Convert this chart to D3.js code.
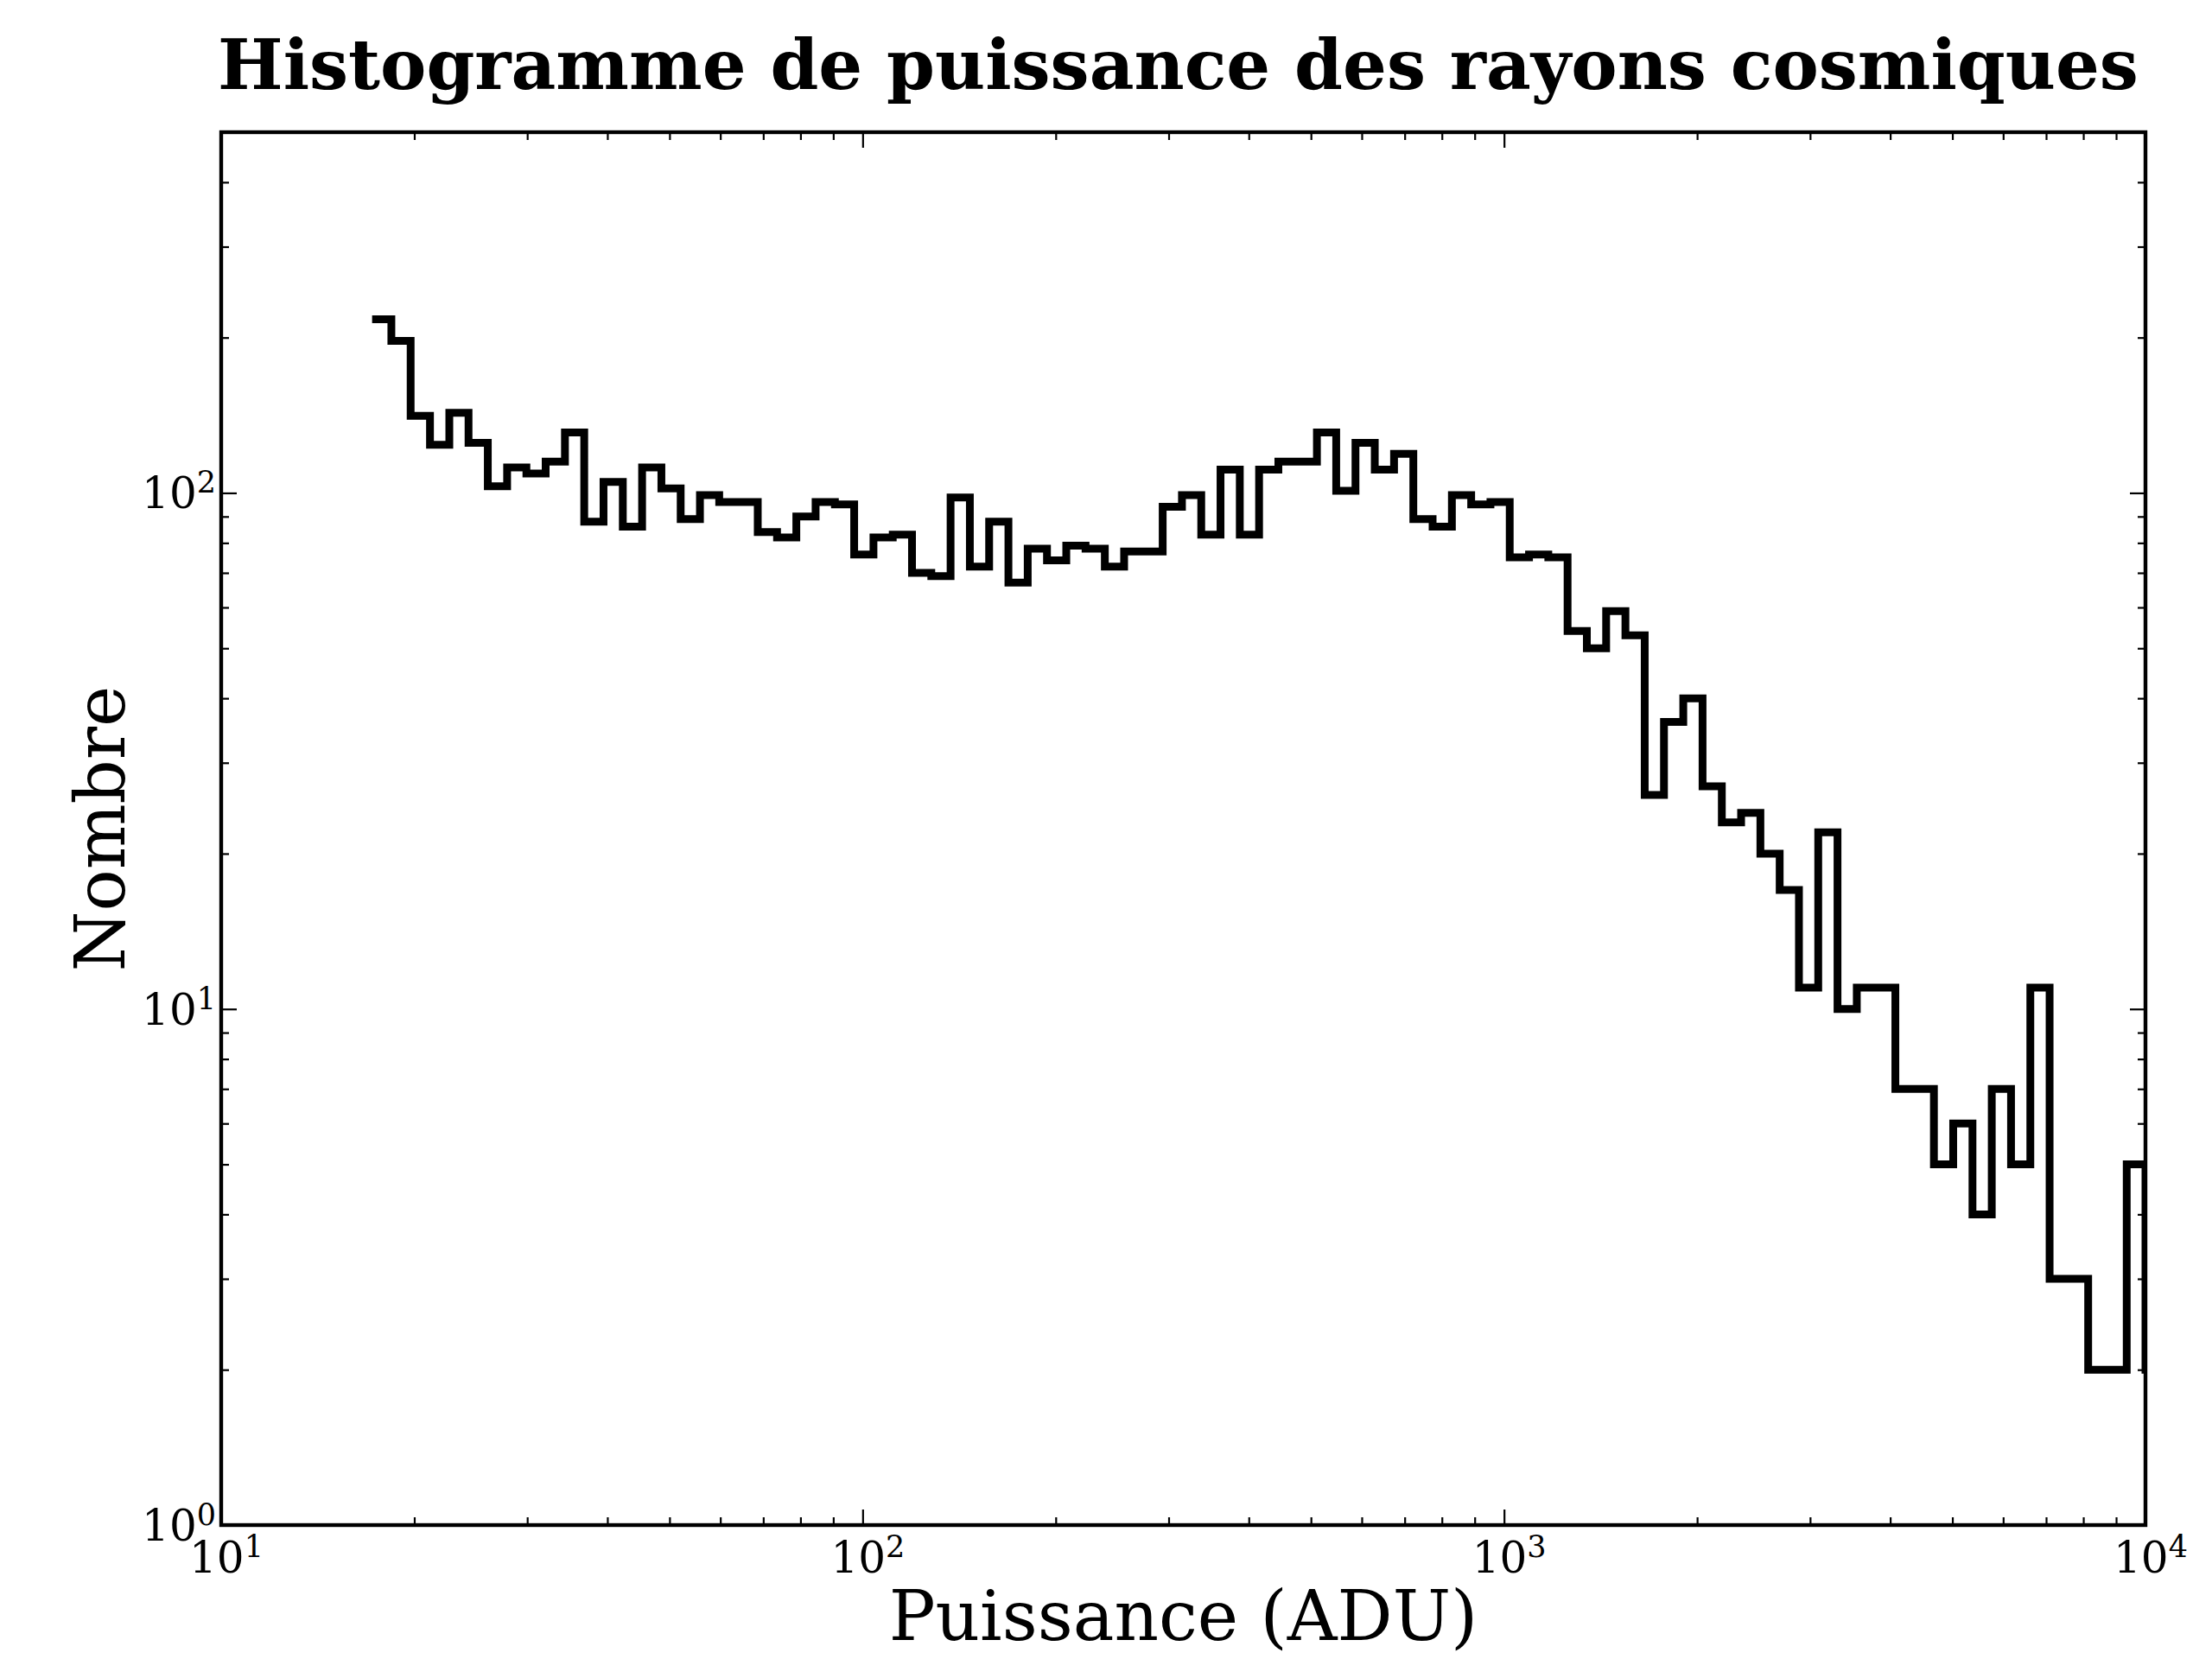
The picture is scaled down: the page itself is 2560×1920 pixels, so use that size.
<!DOCTYPE html>
<html>
<head>
<meta charset="utf-8">
<script src="https://cdn.jsdelivr.net/npm/d3@7"></script>
<style>
body { margin: 0; background: #fff; }
text { font-family: 'DejaVu Serif', serif; fill: #000; }
</style>
</head>
<body>
<svg id="histogram" width="2560" height="1920"></svg>
<script>
// bin edges (ADU), log spaced
const binEdges = [17.19, 18.42, 19.74, 21.16, 22.68, 24.30, 26.04, 27.91, 29.91, 32.05,
    34.35, 36.81, 39.45, 42.28, 45.31, 48.56, 52.04, 55.77, 59.76, 64.04,
    68.63, 73.55, 78.82, 84.47, 90.53, 97.01, 103.97, 111.42, 119.40, 127.96,
    137.13, 146.96, 157.49, 168.78, 180.87, 193.84, 207.73, 222.62, 238.57, 255.67,
    273.99, 293.63, 314.67, 337.22, 361.39, 387.29, 415.05, 444.79, 476.67, 510.83,
    547.44, 586.67, 628.72, 673.77, 722.06, 773.81, 829.27, 888.70, 952.39, 1020.6,
    1093.8, 1172.2, 1256.2, 1346.2, 1442.7, 1546.1, 1656.9, 1775.6, 1902.9, 2039.3,
    2185.4, 2342.0, 2509.9, 2689.8, 2882.5, 3089.1, 3310.5, 3547.8, 3802.0, 4074.5,
    4366.5, 4679.4, 5014.8, 5374.2, 5759.3, 6172.0, 6614.4, 7088.4, 7596.4, 8140.8,
    8724.2, 9349.4, 10000, 10716];

// counts per bin
const counts = [217, 197, 141, 124, 143, 125, 103, 112, 109, 115,
    131, 88, 105, 86, 112, 102, 89, 99, 96, 96,
    84, 82, 90, 96, 95, 76, 82, 83, 70, 69,
    98, 72, 88, 67, 78, 74, 79, 78, 72, 77,
    77, 94, 99, 83, 111, 83, 111, 115, 115, 131,
    101, 125, 111, 119, 89, 86, 99, 95, 96, 75,
    76, 75, 54, 50, 59, 53, 26, 36, 40, 27,
    23, 24, 20, 17, 11, 22, 10, 11, 11, 7,
    7, 5, 6, 4, 7, 5, 11, 3, 3, 2,
    2, 5, 2];

const xMajorTicks = [10, 100, 1000, 10000];
const xTickLabels = ['10^1', '10^2', '10^3', '10^4'];
const xMinorTicks = [20, 30, 40, 50, 60, 70, 80, 90,
    200, 300, 400, 500, 600, 700, 800, 900,
    2000, 3000, 4000, 5000, 6000, 7000, 8000, 9000];
const yMajorTicks = [1, 10, 100];
const yTickLabels = ['10^0', '10^1', '10^2'];
const yMinorTicks = [2, 3, 4, 5, 6, 7, 8, 9,
    20, 30, 40, 50, 60, 70, 80, 90,
    200, 300, 400];

const titleText = 'Histogramme de puissance des rayons cosmiques';
const xLabelText = 'Puissance (ADU)';
const yLabelText = 'Nombre';

const chart = {};

/**
 * the margin of the svg element #histogram
 */
chart.margin = {
    top: 153,
    bottom: 155,
    left: 256,
    right: 77
};

chart.setScale = function(){
    this.xScale = d3.scaleLog()
        .domain([10, 10000])
        .range([this.margin.left, this.svgWidth - this.margin.right]);
    this.yScale = d3.scaleLog()
        .domain([1, 500])
        .range([this.svgHeight - this.margin.bottom, this.margin.top]);
};

/**
 * inward ticks on all four sides, matplotlib classic look
 */
chart.setTicks = function(svg){
    let x = this.xScale, y = this.yScale;
    let bottom = this.svgHeight - this.margin.bottom;
    let right = this.svgWidth - this.margin.right;
    let sides = [
        {axis: d3.axisBottom(x), t: 'translate(0,' + bottom + ')', h: true},
        {axis: d3.axisTop(x), t: 'translate(0,' + this.margin.top + ')', h: true},
        {axis: d3.axisLeft(y), t: 'translate(' + this.margin.left + ',0)', h: false},
        {axis: d3.axisRight(y), t: 'translate(' + right + ',0)', h: false}
    ];
    sides.forEach(function(s){
        [[s.h ? xMajorTicks : yMajorTicks, 18], [s.h ? xMinorTicks : yMinorTicks, 9]].forEach(function(p){
            let g = svg.append('g')
                .attr('transform', s.t)
                .call(s.axis.tickValues(p[0]).tickSize(-p[1]).tickFormat(''));
            g.select('.domain').remove();
            g.selectAll('line').attr('stroke', '#000').attr('stroke-width', 2.2);
        });
    });
};

chart.powerLabel = function(sel, label){
    let parts = label.split('^');
    sel.append('tspan').text(parts[0]);
    sel.append('tspan')
        .attr('dy', -18)
        .attr('font-size', 35)
        .text(parts[1]);
};

chart.setLabels = function(svg){
    let x = this.xScale, y = this.yScale;
    let bottom = this.svgHeight - this.margin.bottom;
    let cx = (this.margin.left + this.svgWidth - this.margin.right) / 2;
    let cy = (this.margin.top + bottom) / 2;

    svg.append('g').selectAll('text')
        .data(xMajorTicks)
        .enter()
        .append('text')
        .attr('x', d => x(d) + 6)
        .attr('y', bottom + 55)
        .attr('text-anchor', 'middle')
        .attr('font-size', 50)
        .each(function(d, i){ chart.powerLabel(d3.select(this), xTickLabels[i]); });

    svg.append('g').selectAll('text')
        .data(yMajorTicks)
        .enter()
        .append('text')
        .attr('x', this.margin.left - 6)
        .attr('y', d => y(d) + 18)
        .attr('text-anchor', 'end')
        .attr('font-size', 50)
        .each(function(d, i){ chart.powerLabel(d3.select(this), yTickLabels[i]); });

    svg.append('text')
        .attr('x', cx - 6)
        .attr('y', 103)
        .attr('text-anchor', 'middle')
        .attr('font-size', 80)
        .attr('font-weight', 'bold')
        .text(titleText);

    svg.append('text')
        .attr('x', cx)
        .attr('y', 1898)
        .attr('text-anchor', 'middle')
        .attr('font-size', 80)
        .text(xLabelText);

    svg.append('text')
        .attr('transform', 'translate(144,' + cy + ') rotate(-90)')
        .attr('text-anchor', 'middle')
        .attr('font-size', 80)
        .text(yLabelText);
};

chart.init = function(){
    "use strict";
    let svg = d3.select('#histogram');
    this.svgWidth = +svg.attr('width');
    this.svgHeight = +svg.attr('height');
    this.setScale();
    let x = this.xScale, y = this.yScale;
    let plotW = this.svgWidth - this.margin.left - this.margin.right;
    let plotH = this.svgHeight - this.margin.top - this.margin.bottom;

    svg.append('rect')
        .attr('width', this.svgWidth)
        .attr('height', this.svgHeight)
        .attr('fill', '#fff');

    svg.append('clipPath')
        .attr('id', 'plot-clip')
        .append('rect')
        .attr('x', this.margin.left)
        .attr('y', this.margin.top)
        .attr('width', plotW)
        .attr('height', plotH);

    // step outline: each bin drawn flat from its left to right edge
    let steps = counts.map((c, i) => [binEdges[i], c]);
    steps.push([binEdges[counts.length], counts[counts.length - 1]]);
    let line = d3.line()
        .x(d => x(d[0]))
        .y(d => y(d[1]))
        .curve(d3.curveStepAfter);

    svg.append('path')
        .datum(steps)
        .attr('d', line)
        .attr('clip-path', 'url(#plot-clip)')
        .attr('fill', 'none')
        .attr('stroke', '#000')
        .attr('stroke-width', 9)
        .attr('stroke-linejoin', 'miter');

    this.setTicks(svg);

    svg.append('rect')
        .attr('x', this.margin.left)
        .attr('y', this.margin.top)
        .attr('width', plotW)
        .attr('height', plotH)
        .attr('fill', 'none')
        .attr('stroke', '#000')
        .attr('stroke-width', 4.4);

    this.setLabels(svg);
};

chart.init();
</script>
</body>
</html>
